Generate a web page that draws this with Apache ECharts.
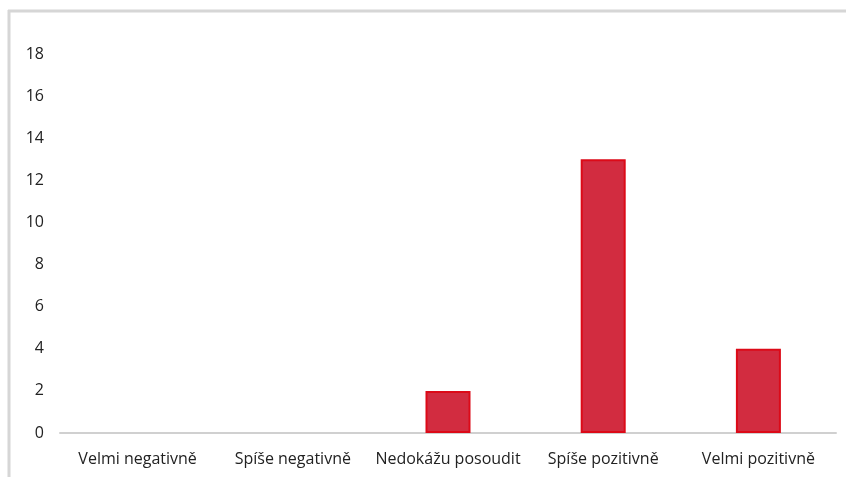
<!DOCTYPE html>
<html>
<head>
<meta charset="utf-8">
<script src="https://cdn.jsdelivr.net/npm/echarts@6/dist/echarts.min.js"></script>
<style>
  html, body { margin: 0; padding: 0; background: #fff; }
  #chart { width: 846px; height: 477px; }
</style>
</head>
<body>
<div id="chart"></div>
<script>
// Survey answers and response counts
const categories = ['Velmi negativně', 'Spíše negativně', 'Nedokážu posoudit', 'Spíše pozitivně', 'Velmi pozitivně'];
const counts = [0, 0, 2, 13, 4];
const yMin = 0, yMax = 18, yStep = 2;

const chart = echarts.init(document.getElementById('chart'), null, { renderer: 'canvas' });
const FONT = '"Open Sans", "Noto Sans", sans-serif';

// empty answers get no outline so nothing is drawn for them
const barData = counts.map(v => ({
  value: v,
  itemStyle: v === 0 ? { borderWidth: 0 } : {}
}));

chart.setOption({
  animation: false,
  backgroundColor: '#ffffff',
  grid: { left: 60, right: 10, top: 54, bottom: 44, containLabel: false },
  graphic: [
    // chart frame: top and left edges
    { type: 'line', shape: { x1: 8, y1: 11, x2: 846, y2: 11 }, style: { stroke: '#d6d6d6', lineWidth: 3 }, silent: true },
    { type: 'line', shape: { x1: 9, y1: 10, x2: 9, y2: 477 }, style: { stroke: '#d6d6d6', lineWidth: 3 }, silent: true }
  ],
  xAxis: {
    type: 'category',
    data: categories,
    axisLine: { show: true, lineStyle: { color: '#d0d0d0', width: 2 } },
    axisTick: { show: false },
    axisLabel: { color: '#222', fontSize: 16, fontFamily: FONT, margin: 18, interval: 0 }
  },
  yAxis: {
    type: 'value',
    min: yMin, max: yMax, interval: yStep,
    splitLine: { show: false },
    axisLine: { show: false },
    axisTick: { show: false },
    axisLabel: { color: '#222', fontSize: 16, fontFamily: FONT, margin: 16 }
  },
  series: [{
    type: 'bar',
    data: barData,
    barWidth: 45,
    itemStyle: { color: '#d22c40', borderColor: '#dc0a18', borderWidth: 2 }
  }]
});
</script>
</body>
</html>
